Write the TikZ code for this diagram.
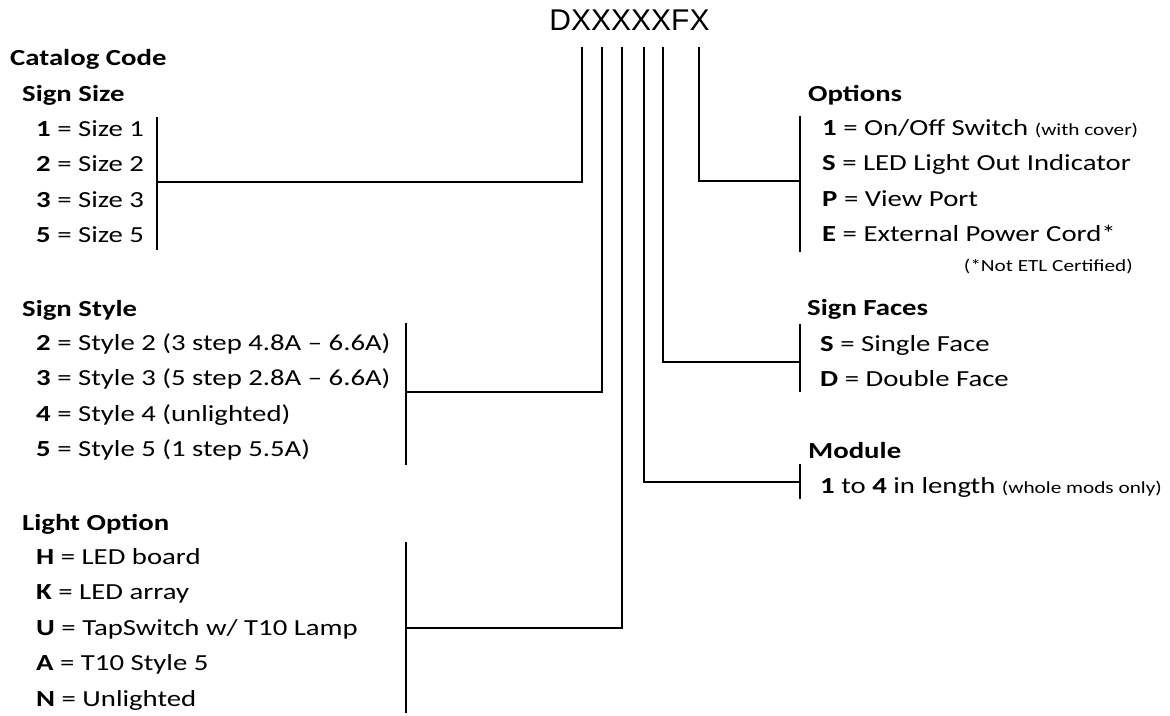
\documentclass[tikz,border=0pt]{standalone}
\usepackage{fontspec}
\setmainfont{Carlito}[FakeStretch=1.25]
\newfontfamily\codefont{Liberation Sans}
\newcommand\klein[1]{{\fontsize{17}{17}\selectfont #1}}
\begin{document}
\begin{tikzpicture}[x=1pt,y=-1pt,
  kopf/.style={anchor=base west,inner sep=0pt,font=\fontsize{23}{23}\selectfont\bfseries},
  eintrag/.style={anchor=base west,inner sep=0pt,font=\fontsize{23}{23}\selectfont},
  linie/.style={line width=1.6pt}]
  \useasboundingbox (0,0) rectangle (1170,715);
  % Code
  \node[anchor=base,inner sep=0pt,font=\codefont\fontsize{30}{30}\selectfont] (code) at (629.5,30) {DXXXXXFX};
  % Abgriffe unter dem Code
  \foreach \n/\x in {1/582,2/602,3/622,4/644,5/663,6/699} { \coordinate (t\n) at (\x,47); }
  % linke Seite
  \node[kopf] (katalog) at (10,65) {Catalog Code};
  \node[kopf] (groesse) at (22,101) {Sign Size};
  \foreach \k/\t [count=\i] in {1/{Size 1},2/{Size 2},3/{Size 3},5/{Size 5}}
    \node[eintrag] (g\i) at (36,100.5+35.5*\i) {\textbf{\k} = \t};
  \node[kopf] (stil) at (22,316) {Sign Style};
  \foreach \k/\t [count=\i] in {2/{Style 2 (3 step 4.8A -- 6.6A)},3/{Style 3 (5 step 2.8A -- 6.6A)},
      4/{Style 4 (unlighted)},5/{Style 5 (1 step 5.5A)}}
    \node[eintrag] (s\i) at (36,315.5+35.2*\i) {\textbf{\k} = \t};
  \node[kopf] (licht) at (22,530) {Light Option};
  \foreach \k/\t [count=\i] in {H/{LED board},K/{LED array},U/{TapSwitch w/ T10 Lamp},
      A/{T10 Style 5},N/{Unlighted}}
    \node[eintrag] (l\i) at (36,528.5+35.5*\i) {\textbf{\k} = \t};
  % rechte Seite
  \node[kopf] (optionen) at (808,101) {Options};
  \foreach \k/\t [count=\i] in {1/{On/Off Switch \klein{(with cover)}},S/{LED Light Out Indicator},
      P/{View Port},E/{External Power Cord*}}
    \node[eintrag] (o\i) at (822,99.5+35.5*\i) {\textbf{\k} = \t};
  \node[anchor=base east,inner sep=0pt,font=\fontsize{17}{17}\selectfont] (etl) at (1133,271) {(*Not ETL Certified)};
  \node[kopf] (seiten) at (807,315) {Sign Faces};
  \node[eintrag] (f1) at (820,351) {\textbf{S} = Single Face};
  \node[eintrag] (f2) at (820,386) {\textbf{D} = Double Face};
  \node[kopf] (modul) at (808,458) {Module};
  \node[eintrag] (m1) at (820,493) {\textbf{1} to \textbf{4} in length \klein{(whole mods only)}};
  % Klammerstriche
  \coordinate (ga) at (157,117); \coordinate (gb) at (157,250); \coordinate (gm) at (157,182);
  \coordinate (sa) at (406,323); \coordinate (sb) at (406,465); \coordinate (sm) at (406,392);
  \coordinate (la) at (406,542); \coordinate (lb) at (406,713); \coordinate (lm) at (406,628);
  \coordinate (oa) at (800,116); \coordinate (ob) at (800,252); \coordinate (om) at (800,181);
  \coordinate (fa) at (800,324); \coordinate (fb) at (800,392); \coordinate (fm) at (800,362);
  \coordinate (ma) at (800,464); \coordinate (mb) at (800,499); \coordinate (mm) at (800,482);
  \draw[linie] (ga)--(gb) (sa)--(sb) (la)--(lb) (oa)--(ob) (fa)--(fb) (ma)--(mb);
  % Verbindungen
  \draw[linie] (t1) |- (gm);
  \draw[linie] (t2) |- (sm);
  \draw[linie] (t3) |- (lm);
  \draw[linie] (t4) |- (mm);
  \draw[linie] (t5) |- (fm);
  \draw[linie] (t6) |- (om);
\end{tikzpicture}
\end{document}
